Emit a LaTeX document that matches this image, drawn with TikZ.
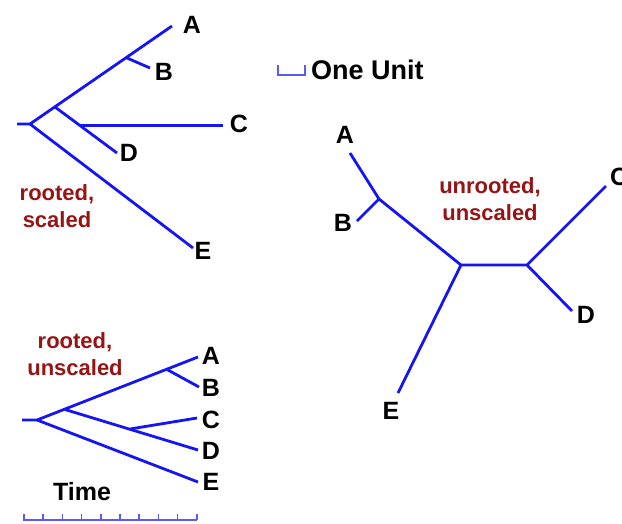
\documentclass[tikz,border=0pt]{standalone}
\usepackage{fontspec}
\setmainfont{Liberation Sans}
\definecolor{treeblue}{RGB}{20,20,245}
\definecolor{notered}{RGB}{150,20,20}
\tikzset{
  branch/.style={draw=treeblue, line width=2.8pt},
  scalebar/.style={draw=treeblue!70, line width=1.6pt},
  leaf/.style={font=\fontsize{25}{27}\selectfont\bfseries, inner sep=0pt},
  note/.style={font=\fontsize{22}{27}\selectfont\bfseries, text=notered, align=center, inner sep=0pt}
}
\begin{document}
\begin{tikzpicture}[x=1pt, y=-1pt]
  \useasboundingbox (0,0) rectangle (622,523);

  % rooted, scaled
  \coordinate (s0) at (17,124);
  \coordinate (sr) at (30,124);
  \coordinate (sab) at (127,58);
  \coordinate (sn) at (55,107);
  \coordinate (scd) at (80,125.5);
  \coordinate (sa) at (172,26);
  \coordinate (sb) at (150,68);
  \coordinate (sc) at (223,125.5);
  \coordinate (sd) at (117,153);
  \coordinate (se) at (193,248);
  \draw [branch] (s0) -- (sr) -- (sa);
  \draw [branch] (sab) -- (sb);
  \draw [branch] (sn) -- (sd);
  \draw [branch] (scd) -- (sc);
  \draw [branch] (sr) -- (se);
  \node [leaf] (sA) at (192,25) {A};
  \node [leaf] (sB) at (164,72) {B};
  \node [leaf] (sC) at (239,124) {C};
  \node [leaf] (sD) at (129,153) {D};
  \node [leaf] (sE) at (203,251) {E};
  \node [note] (snote) at (57,206) {rooted,\\scaled};

  % one unit
  \coordinate (u1) at (278,65);
  \coordinate (u2) at (305,65);
  \draw [scalebar] (u1) -- ++(0,10) -| (u2);
  \node [leaf, anchor=west, font=\fontsize{27}{29}\selectfont\bfseries] (unit) at (311,70) {One Unit};

  % unrooted, unscaled
  \coordinate (ua) at (350,153);
  \coordinate (uab) at (379,199);
  \coordinate (ub) at (357,221);
  \coordinate (um) at (461,265);
  \coordinate (un) at (527,265);
  \coordinate (uc) at (606,186);
  \coordinate (ud) at (572,311);
  \coordinate (ue) at (398,393);
  \draw [branch] (ua) -- (uab) -- (um) -- (un) -- (uc);
  \draw [branch] (uab) -- (ub);
  \draw [branch] (um) -- (ue);
  \draw [branch] (un) -- (ud);
  \node [leaf] (uA) at (345,135) {A};
  \node [leaf] (uB) at (343,223) {B};
  \node [leaf, anchor=west] (uC) at (610,177) {C};
  \node [leaf] (uD) at (586,315) {D};
  \node [leaf] (uE) at (391,411) {E};
  \node [note] (unote) at (490,199) {unrooted,\\unscaled};

  % rooted, unscaled
  \coordinate (t0) at (22,420);
  \coordinate (tr) at (37,420);
  \coordinate (tn) at (65,409.5);
  \coordinate (tab) at (167,369.5);
  \coordinate (tcd) at (130,429);
  \coordinate (ta) at (198,357);
  \coordinate (tb) at (199,387);
  \coordinate (tc) at (197,418);
  \coordinate (td) at (198,450);
  \coordinate (te) at (198,482);
  \draw [branch] (t0) -- (tr) -- (ta);
  \draw [branch] (tab) -- (tb);
  \draw [branch] (tn) -- (td);
  \draw [branch] (tcd) -- (tc);
  \draw [branch] (tr) -- (te);
  \node [leaf] (tA) at (211,356) {A};
  \node [leaf] (tB) at (211,388) {B};
  \node [leaf] (tC) at (211,420) {C};
  \node [leaf] (tD) at (211,451) {D};
  \node [leaf] (tE) at (211,482) {E};
  \node [note] (tnote) at (75,354) {rooted,\\unscaled};

  % time axis
  \node [leaf] (time) at (82,492) {Time};
  \coordinate (x0) at (23,520);
  \coordinate (x1) at (197,520);
  \draw [scalebar] (x0) -- (x1);
  \foreach \i in {0,...,9}
    \draw [scalebar] (24+19.2*\i,520) -- ++(0,-6);
\end{tikzpicture}
\end{document}
